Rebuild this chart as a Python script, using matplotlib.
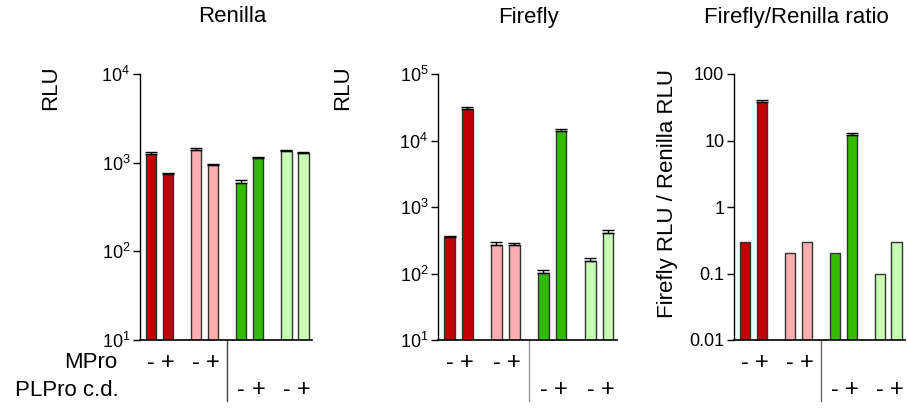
import matplotlib
matplotlib.use('Agg')
from matplotlib import pyplot as plt
from matplotlib import transforms
from matplotlib.lines import Line2D
from matplotlib.ticker import LogLocator, NullLocator, FixedFormatter, LogFormatterSciNotation
import numpy as np

plt.rcParams['font.family'] = ['Liberation Sans', 'DejaVu Sans']
plt.rcParams['mathtext.fontset'] = 'custom'
plt.rcParams['mathtext.rm'] = 'Liberation Sans'
plt.rcParams['mathtext.it'] = 'Liberation Sans:italic'

# data
titles = ['Renilla', 'Firefly', 'Firefly/Renilla ratio']
ylabels = ['RLU', 'RLU', 'Firefly RLU / Renilla RLU']
renilla = [1260, 746, 1400, 942, 595, 1120, 1365, 1277]
renilla_err = [70, 20, 80, 25, 35, 45, 40, 50]
firefly = [354, 29600, 272, 270, 101, 14100, 152, 412]
firefly_err = [12, 1800, 25, 20, 10, 700, 20, 40]
ratio = [0.3, 38.5, 0.2, 0.3, 0.2, 12.2, 0.1, 0.3]
ratio_err = [0, 2.0, 0, 0, 0, 0.9, 0, 0]
mpro_signs = ['-', '+', '-', '+']
plpro_signs = ['-', '+', '-', '+']
bar_colors = ['#C00000', '#C00000', '#FFAFAF', '#FFAFAF',
              '#33BB00', '#33BB00', '#C8FFB4', '#C8FFB4']

W, H = 908, 408
fig = plt.figure(figsize=(W / 100, H / 100), dpi=100)

# positions in pixels -> figure fraction
ax_px = [(140, 312), (438, 617), (734, 905)]
top_px, bot_px = 74, 340
ylims = [(10, 1e4), (10, 1e5), (0.01, 100)]
sep_colors = ['#444444', '#999999', '#666666']

# bar x positions: pairs of bars
step = 2.65
xpos = []
for g in range(4):
    xpos += [g * step, g * step + 1]
xpos = np.array(xpos)

series = [(renilla, renilla_err), (firefly, firefly_err), (ratio, ratio_err)]

for i, (vals, errs) in enumerate(series):
    l, r = ax_px[i]
    ax = fig.add_axes([l / W, 1 - bot_px / H, (r - l) / W, (bot_px - top_px) / H])
    ax.set_yscale('log')
    ax.set_ylim(*ylims[i])
    ax.set_xlim(-0.65, 9.45)
    ax.bar(xpos, vals, width=0.6, color=bar_colors, edgecolor='#333333', linewidth=1, zorder=2)
    errs = np.array(errs)
    m = errs > 0
    ax.errorbar(xpos[m], np.array(vals)[m], yerr=[np.zeros(m.sum()), errs[m]],
                fmt='none', ecolor='black', elinewidth=1, capsize=4, capthick=1, zorder=3)
    for s in ['top', 'right']:
        ax.spines[s].set_visible(False)
    ax.spines['left'].set_linewidth(1)
    ax.spines['bottom'].set_linewidth(1.2)
    ax.set_xticks([])
    ax.yaxis.set_minor_locator(NullLocator())
    ax.tick_params(axis='y', length=5, width=1, labelsize=13, pad=2)
    if i < 2:
        ax.yaxis.set_major_locator(LogLocator(base=10))
        ax.yaxis.set_major_formatter(LogFormatterSciNotation())
    else:
        ax.set_yticks([0.01, 0.1, 1, 10, 100])
        ax.yaxis.set_major_formatter(FixedFormatter(['0.01', '0.1', '1', '10', '100']))
    ax.set_ylim(*ylims[i])

    # sign rows and separator under the axis
    tr = transforms.blended_transform_factory(ax.transData, fig.transFigure)
    for j, s in enumerate(mpro_signs):
        ax.text(xpos[j], 1 - 363 / H, s, transform=tr, ha='center', va='center', fontsize=17)
    for j, s in enumerate(plpro_signs):
        ax.text(xpos[j + 4], 1 - 390 / H, s, transform=tr, ha='center', va='center', fontsize=17)
    xsep = (xpos[3] + xpos[4]) / 2
    ax.add_line(Line2D([xsep, xsep], [1 - 340 / H, 1 - 401 / H], transform=tr,
                       color=sep_colors[i], linewidth=1, clip_on=False))

# titles and axis labels
title_x = [232, 528, 796]
for t, x in zip(titles, title_x):
    fig.text(x / W, 1 - 17 / H, t, ha='center', va='center', fontsize=16)

ylab_pos = [(51, 88), (343, 88), (667, 193)]
for t, (x, y) in zip(ylabels, ylab_pos):
    fig.text(x / W, 1 - y / H, t, ha='center', va='center', rotation=90, fontsize=16)

fig.text(117 / W, 1 - 363 / H, 'MPro', ha='right', va='center', fontsize=16)
fig.text(119 / W, 1 - 390 / H, 'PLPro c.d.', ha='right', va='center', fontsize=16)

fig.savefig('out.png', dpi=100)
